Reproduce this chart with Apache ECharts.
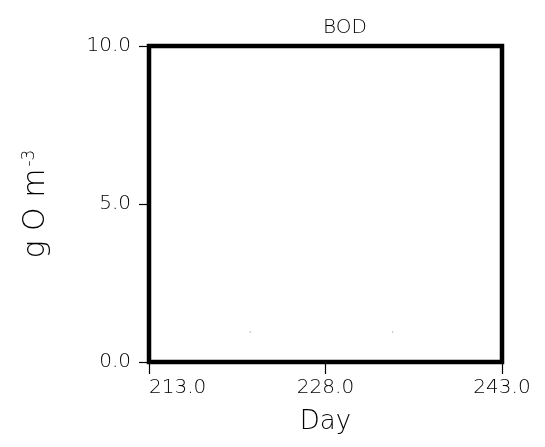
<!DOCTYPE html>
<html><head><meta charset="utf-8">
<script src="https://cdn.jsdelivr.net/npm/echarts@6/dist/echarts.min.js"></script>
<style>html,body{margin:0;padding:0;background:#fff}#c{width:545px;height:447px}</style>
</head><body><div id="c"></div>
<script>
const title = 'BOD';
const xTicks = [213, 228, 243];
const yTicks = [0, 5, 10];
const specksX = [221.6, 233.7];
const specksY = [0.95, 0.95];

const chart = echarts.init(document.getElementById('c'), null, {renderer: 'canvas'});
const font = 'DejaVu Sans';
chart.setOption({
  animation: false,
  backgroundColor: '#fff',
  title: {text: title, left: 340, top: 13, textAlign: 'center',
    textStyle: {fontFamily: font, fontSize: 20, fontWeight: 200, color: '#000'}},
  grid: {left: 149, top: 46, width: 353, height: 316, show: true, borderColor: '#000', borderWidth: 4.5, backgroundColor: '#fff'},
  xAxis: {type: 'value', min: xTicks[0], max: xTicks[2], interval: 15,
    name: 'Day', nameLocation: 'middle', nameGap: 47,
    nameTextStyle: {fontFamily: font, fontSize: 26, fontWeight: 200, color: '#000'},
    axisLine: {show: false},
    axisTick: {show: true, inside: false, length: 12, lineStyle: {color: '#000', width: 1.2}},
    axisLabel: {margin: 16, fontFamily: font, fontSize: 20, fontWeight: 200, color: '#000',
      alignMinLabel: 'left', formatter: v => v.toFixed(1)},
    splitLine: {show: false}},
  yAxis: {type: 'value', min: yTicks[0], max: yTicks[2], interval: 5,
    name: '{a|g O m}{s|-3}', nameLocation: 'middle', nameGap: 97, nameRotate: 90,
    nameTextStyle: {fontFamily: font, color: '#000',
      rich: {a: {fontFamily: font, fontSize: 30, fontWeight: 200, color: '#000'},
             s: {fontFamily: font, fontSize: 17, fontWeight: 200, color: '#000', verticalAlign: 'top', padding: [0,0,14,2]}}},
    axisLine: {show: false},
    axisTick: {show: true, length: 10, lineStyle: {color: '#000', width: 1.2}},
    axisLabel: {margin: 18, fontFamily: font, fontSize: 20, fontWeight: 200, color: '#000', formatter: v => v.toFixed(1)},
    splitLine: {show: false}},
  series: [{type: 'scatter', data: specksX.map((x, i) => [x, specksY[i]]),
    symbolSize: 1.5, itemStyle: {color: '#999'}}]
});
</script></body></html>
